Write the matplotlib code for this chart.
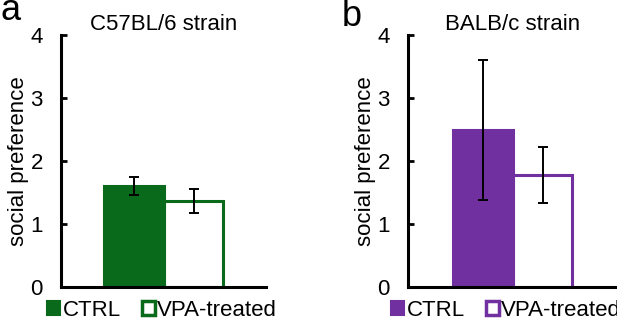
import matplotlib
matplotlib.use("Agg")
import matplotlib.pyplot as plt
from matplotlib.patches import Patch

plt.rcParams['font.family'] = ['Liberation Sans', 'DejaVu Sans']

groups = ["CTRL", "VPA-treated"]
c57_means = [1.60, 1.37]
c57_errs = [0.14, 0.19]
balb_means = [2.49, 1.78]
balb_errs = [1.11, 0.44]
yticks = [0, 1, 2, 3, 4]
titles = ["C57BL/6 strain", "BALB/c strain"]
panel_labels = ["a", "b"]
colors = ["#0a6a1c", "#7030a0"]

W, H = 617, 323
fig = plt.figure(figsize=(W / 100, H / 100), dpi=100)

axes_px = [(61, 266), (408, 617)]
bottom_px, top_px = 287, 35
FS = 16

for i, (means, errs) in enumerate([(c57_means, c57_errs), (balb_means, balb_errs)]):
    l, r = axes_px[i]
    ax = fig.add_axes([l / W, (H - bottom_px) / H, (r - l) / W, (bottom_px - top_px) / H])
    col = colors[i]
    x = [0, 1]
    ax.bar(x[0], means[0], width=1.0, color=col, edgecolor=col, linewidth=2.2, zorder=2)
    ax.bar(x[1], means[1], width=0.97, color="white", edgecolor=col, linewidth=2.2, zorder=1)
    ax.errorbar(x, means, yerr=errs, fmt="none", ecolor="black", elinewidth=1.4,
                capsize=3.6, capthick=1.4, zorder=3)
    left = -(482.5 - 408) / 60 if i == 1 else -(133.5 - 61) / 60
    ax.set_xlim(left, left + (r - l) / 60)
    ax.set_ylim(0, 4)
    ax.set_yticks(yticks)
    ax.set_xticks([])
    for s in ["top", "right"]:
        ax.spines[s].set_visible(False)
    for s in ["left", "bottom"]:
        ax.spines[s].set_linewidth(2.2)
        ax.spines[s].set_color("black")
    ax.tick_params(axis="y", direction="in", length=4, width=2, pad=13, labelsize=FS)
    ax.set_ylabel("social preference", fontsize=FS, labelpad=1)
    ax.set_title(titles[i], fontsize=FS, pad=2)
    handles = [Patch(facecolor=col, edgecolor=col, linewidth=1.5),
               Patch(facecolor="white", edgecolor=col, linewidth=2.5)]
    leg_x = (47 if i == 0 else 391) / W
    fig.legend(handles, groups, loc="center left", bbox_to_anchor=(leg_x, (H - 310) / H),
               ncol=2, frameon=False, fontsize=FS, handlelength=0.6, handleheight=0.6,
               handletextpad=0.1, columnspacing=0.95, borderaxespad=0, borderpad=0)
    lab_x = 0 if i == 0 else 342
    lab_base = 20 if i == 0 else 26
    fig.text(lab_x / W, (H - lab_base) / H, panel_labels[i], fontsize=26,
             ha="left", va="baseline")

fig.savefig("out.png", dpi=100)
